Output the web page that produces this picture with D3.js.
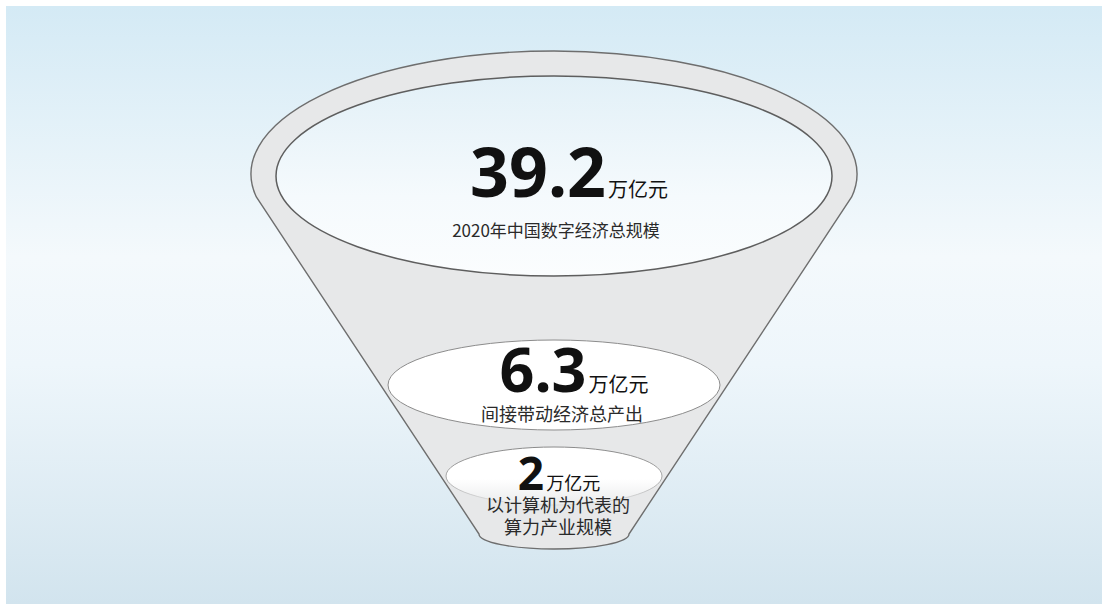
<!DOCTYPE html>
<html>
<head>
<meta charset="utf-8">
<script src="https://cdn.jsdelivr.net/npm/d3@7/dist/d3.min.js"></script>
<style>
  html, body { margin: 0; padding: 0; background: #ffffff; }
  svg { display: block; }
</style>
</head>
<body>
<svg id="chart" width="1102" height="606"></svg>
<script>
// ---- data ----
const levels = ["total", "indirect", "computing"];
const values = [39.2, 6.3, 2];
const units = ["万亿元", "万亿元", "万亿元"];
const captions = [
  ["2020年中国数字经济总规模"],
  ["间接带动经济总产出"],
  ["以计算机为代表的", "算力产业规模"]
];

const W = 1102, H = 606;
const svg = d3.select("#chart");
const defs = svg.append("defs");

// background gradient
const bg = defs.append("linearGradient").attr("id", "bg").attr("x1", 0).attr("y1", 0).attr("x2", 0).attr("y2", 1);
[[0, "#d4eaf5"], [0.42, "#f4f9fc"], [0.6, "#eef6fb"], [1, "#d2e4ee"]].forEach(s =>
  bg.append("stop").attr("offset", s[0]).attr("stop-color", s[1]));

const rimFill = defs.append("linearGradient").attr("id", "rim").attr("x1", 0).attr("y1", 0).attr("x2", 0).attr("y2", 1);
[[0, "#e2f0f7"], [0.6, "#f5fafd"], [1, "#fbfdfe"]].forEach(s =>
  rimFill.append("stop").attr("offset", s[0]).attr("stop-color", s[1]));

const lowFill = defs.append("linearGradient").attr("id", "low").attr("x1", 0).attr("y1", 0).attr("x2", 0).attr("y2", 1);
[[0, "#ffffff"], [0.55, "#ffffff"], [1, "#eaebec"]].forEach(s =>
  lowFill.append("stop").attr("offset", s[0]).attr("stop-color", s[1]));
const lowStroke = defs.append("linearGradient").attr("id", "lowS").attr("x1", 0).attr("y1", 0).attr("x2", 0).attr("y2", 1);
[[0, "#8a8a8a", 1], [0.6, "#9a9a9a", 0.8], [1, "#bbbbbb", 0.25]].forEach(s =>
  lowStroke.append("stop").attr("offset", s[0]).attr("stop-color", s[1]).attr("stop-opacity", s[2]));

svg.append("rect").attr("x", 6).attr("y", 6).attr("width", W - 6).attr("height", H - 8).attr("fill", "url(#bg)");

// ---- layout scales ----
const cx = 554;
const yCenter = d3.scaleOrdinal().domain(levels).range([176, 385, 476]);
const rxScale = d3.scaleLinear().domain([2, 6.3, 39.2]).range([108, 166, 278]);
const ryScale = d3.scaleLinear().domain([2, 6.3, 39.2]).range([29, 45, 100]);
const numSize = d3.scaleLinear().domain([2, 6.3, 39.2]).range([46, 61, 68]);

// ---- funnel body ----
const outer = { cx: cx, cy: 174, rx: 303, ry: 123 };
const cornerY = 197;
const dx = outer.rx * Math.sqrt(1 - Math.pow((cornerY - outer.cy) / outer.ry, 2));
const botY = 534, botRx = 75, botRy = 15;
const body = `M${cx - dx},${cornerY} A${outer.rx},${outer.ry} 0 1 1 ${cx + dx},${cornerY} ` +
  `L${cx + botRx},${botY} A${botRx},${botRy} 0 0 1 ${cx - botRx},${botY} Z`;
svg.append("path").attr("d", body)
  .attr("fill", "#e7e8e9").attr("stroke", "#6e6e6e").attr("stroke-width", 1.4);

// ---- ellipses ----
const g = svg.append("g");
levels.forEach((k, i) => {
  const e = g.append("ellipse")
    .attr("cx", cx).attr("cy", yCenter(k))
    .attr("rx", rxScale(values[i])).attr("ry", ryScale(values[i]));
  if (i === 0) e.attr("fill", "url(#rim)").attr("stroke", "#5e5e5e").attr("stroke-width", 1.5);
  else if (i === 1) e.attr("fill", "#ffffff").attr("stroke", "#8c8c8c").attr("stroke-width", 1);
  else e.attr("fill", "url(#low)").attr("stroke", "url(#lowS)").attr("stroke-width", 1);
});

// ---- texts ----
const numFont = "'Noto Sans', 'Open Sans', sans-serif";
const cjkFont = "'Noto Sans CJK SC', sans-serif";
const numBase = [197, 392, 490];
const numShift = [15, 20, 5];
const capBase = [[237], [421], [512, 534]];
const capShift = [2, 8, 4];
const capSize = [17, 18, 18];
levels.forEach((k, i) => {
  const t = svg.append("text")
    .attr("x", cx + numShift[i]).attr("y", numBase[i])
    .attr("text-anchor", "middle").attr("fill", "#111");
  t.append("tspan").attr("font-family", numFont).attr("font-weight", 700)
    .attr("font-size", numSize(values[i])).text(values[i]);
  t.append("tspan").attr("font-family", cjkFont).attr("font-weight", 400)
    .attr("font-size", i === 2 ? 18 : 20).attr("dx", 2).text(units[i]);
  captions[i].forEach((c, j) => {
    svg.append("text").attr("x", cx + capShift[i]).attr("y", capBase[i][j])
      .attr("text-anchor", "middle").attr("fill", "#2a2a2a")
      .attr("font-family", cjkFont).attr("font-size", capSize[i]).text(c);
  });
});
</script>
</body>
</html>
